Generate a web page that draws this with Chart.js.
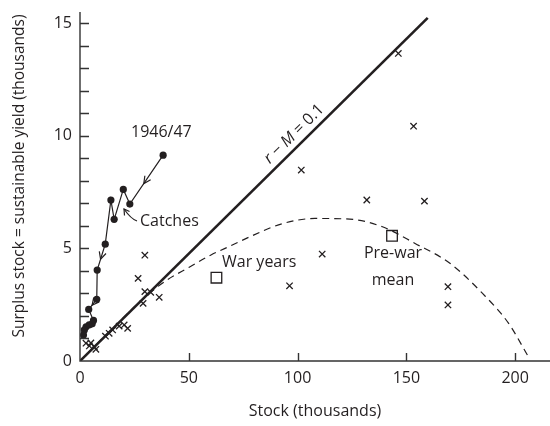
<!DOCTYPE html>
<html>
<head>
<meta charset="utf-8">
<script src="https://cdn.jsdelivr.net/npm/chart.js@4.4.0/dist/chart.umd.min.js"></script>
<style>
  html, body { margin: 0; padding: 0; background: #fff; }
  #wrap { width: 550px; height: 426px; }
</style>
</head>
<body>
<div id="wrap"><canvas id="chart" width="550" height="426"></canvas></div>
<script>
// ========== DATA ==========

const xTicks = [0, 50, 100, 150, 200];
const yTicks = [0, 1, 2, 3, 4, 5, 6, 7, 8, 9, 10, 11, 12, 13, 14, 15];
const yLabels = [0, 5, 10, 15];

// r - M = 0.1 line
const lineStock = [0, 159.8];
const lineSurplus = [0, 15.24];

// dashed sustainable yield curve
const curveStock = [0, 15, 30, 40, 50, 60, 70, 80, 93, 108, 124, 139, 154, 170, 185, 197, 206];
const curveSurplus = [0, 1.45, 2.85, 3.6, 4.15, 4.7, 5.15, 5.6, 6.1, 6.33, 6.3, 5.96, 5.22, 4.34, 3.0, 1.67, 0.2];

// catches, from 1946/47 backwards
const catchStock = [38.2, 22.9, 19.9, 15.7, 14.2, 11.6, 7.9, 7.7, 4.0, 6.2, 5.6, 4.2, 2.8, 2.0, 1.6];
const catchSurplus = [9.14, 6.97, 7.62, 6.29, 7.15, 5.19, 4.04, 2.74, 2.29, 1.8, 1.65, 1.6, 1.52, 1.38, 1.15];
const catchArrows = [0, 5, 7];   // segments carrying an arrowhead

// yearly estimates
const yearStock = [153.3, 101.7, 131.8, 158.3, 111.3, 96.3, 169.1, 169.1, 146.3,
                   29.8, 26.7, 29.8, 32.5, 29.0, 36.4,
                   2.75, 5.0, 4.3, 6.6, 7.3, 11.7, 13.4, 15.0, 18.0, 20.3, 21.9];
const yearSurplus = [10.43, 8.48, 7.15, 7.1, 4.75, 3.34, 3.30, 2.49, 13.66,
                     4.70, 3.67, 3.08, 3.05, 2.56, 2.83,
                     0.79, 0.8, 0.67, 0.63, 0.52, 1.1, 1.23, 1.38, 1.55, 1.6, 1.45];

// means: war years, pre-war
const meanStock = [62.7, 143.4];
const meanSurplus = [3.70, 5.56];

// ========== HELPERS ==========

const INK = '#231f20';
const FONT = "'Open Sans', sans-serif";

function toPoints(xs, ys) {
    return xs.map((x, i) => ({ x: x, y: ys[i] }));
}

// ========== DECORATION PLUGIN ==========

const decor = {
    id: 'decor',
    afterDatasetsDraw(chart) {
        const ctx = chart.ctx;
        const { left, right, top, bottom } = chart.chartArea;
        const xs = chart.scales.x;
        const ys = chart.scales.y;

        ctx.save();
        ctx.strokeStyle = '#333';
        ctx.lineWidth = 1.4;

        // axes
        ctx.beginPath();
        ctx.moveTo(left, top);
        ctx.lineTo(left, bottom);
        ctx.lineTo(right, bottom);
        ctx.stroke();

        // inward ticks
        ctx.beginPath();
        yTicks.forEach(v => {
            if (v === 0) return;
            const py = Math.round(ys.getPixelForValue(v)) + 0.5;
            ctx.moveTo(left, py);
            ctx.lineTo(left + 9, py);
        });
        xTicks.forEach(v => {
            if (v === 0) return;
            const px = Math.round(xs.getPixelForValue(v)) + 0.5;
            ctx.moveTo(px, bottom);
            ctx.lineTo(px, bottom - 8);
        });
        ctx.stroke();

        // arrowheads on the catches line
        ctx.strokeStyle = INK;
        ctx.lineWidth = 1.2;
        catchArrows.forEach(i => {
            const x0 = xs.getPixelForValue(catchStock[i]);
            const y0 = ys.getPixelForValue(catchSurplus[i]);
            const x1 = xs.getPixelForValue(catchStock[i + 1]);
            const y1 = ys.getPixelForValue(catchSurplus[i + 1]);
            const len = Math.hypot(x1 - x0, y1 - y0);
            const dx = (x1 - x0) / len, dy = (y1 - y0) / len;
            const tx = x0 + (x1 - x0) * 0.58, ty = y0 + (y1 - y0) * 0.58;
            ctx.beginPath();
            ctx.moveTo(tx - dx * 7 - dy * 3.5, ty - dy * 7 + dx * 3.5);
            ctx.lineTo(tx, ty);
            ctx.lineTo(tx - dx * 7 + dy * 3.5, ty - dy * 7 - dx * 3.5);
            ctx.stroke();
        });

        // leader for "Catches"
        ctx.beginPath();
        ctx.moveTo(137, 221);
        ctx.quadraticCurveTo(131, 219, 124, 209);
        ctx.stroke();
        ctx.beginPath();
        ctx.moveTo(124.5, 215.5);
        ctx.lineTo(124, 209);
        ctx.lineTo(129.5, 211.5);
        ctx.stroke();

        // labels
        ctx.fillStyle = INK;
        ctx.font = '16px ' + FONT;
        ctx.textBaseline = 'middle';
        ctx.textAlign = 'left';
        ctx.fillText('1946/47', 131, 132);
        ctx.fillText('Catches', 140, 221);
        ctx.fillText('War years', 222, 262);
        ctx.textAlign = 'center';
        ctx.fillText('Pre-war', 393, 253);
        ctx.fillText('mean', 393, 280);

        // r - M = 0.1 along the line
        const parts = [['r', true], [' \u2212 ', false], ['M', true], [' = 0.1', false]];
        const fontOf = it => (it ? 'italic ' : '') + '16px ' + FONT;
        let total = 0;
        parts.forEach(p => { ctx.font = fontOf(p[1]); total += ctx.measureText(p[0]).width; });
        ctx.translate(294, 134);
        ctx.rotate(-44.6 * Math.PI / 180);
        ctx.textAlign = 'left';
        let cx = -total / 2;
        parts.forEach(p => {
            ctx.font = fontOf(p[1]);
            ctx.fillText(p[0], cx, 0);
            cx += ctx.measureText(p[0]).width;
        });
        ctx.setTransform(1, 0, 0, 1, 0, 0);

        // y axis title
        ctx.translate(20, 176);
        ctx.rotate(-Math.PI / 2);
        ctx.textAlign = 'center';
        ctx.font = '15.5px ' + FONT;
        ctx.fillText('Surplus stock = sustainable yield (thousands)', 0, 0);
        ctx.restore();
    }
};

// ========== CHART ==========

function initChart() {
    const ctx = document.getElementById('chart').getContext('2d');

    new Chart(ctx, {
        type: 'scatter',
        data: {
            datasets: [
                {
                    label: 'r - M = 0.1',
                    data: toPoints(lineStock, lineSurplus),
                    showLine: true,
                    borderColor: INK,
                    borderWidth: 2.6,
                    pointRadius: 0
                },
                {
                    label: 'Sustainable yield',
                    data: toPoints(curveStock, curveSurplus),
                    showLine: true,
                    borderColor: INK,
                    borderWidth: 1.2,
                    borderDash: [7, 5],
                    cubicInterpolationMode: 'monotone',
                    pointRadius: 0
                },
                {
                    label: 'Catches',
                    data: toPoints(catchStock, catchSurplus),
                    showLine: true,
                    borderColor: INK,
                    borderWidth: 1.2,
                    pointRadius: 3.6,
                    pointBackgroundColor: INK,
                    pointBorderWidth: 0
                },
                {
                    label: 'Years',
                    data: toPoints(yearStock, yearSurplus),
                    pointStyle: 'crossRot',
                    pointRadius: 4.5,
                    borderColor: INK,
                    borderWidth: 1.3
                },
                {
                    label: 'Means',
                    data: toPoints(meanStock, meanSurplus),
                    pointStyle: 'rect',
                    pointRadius: 7.5,
                    backgroundColor: '#fff',
                    borderColor: INK,
                    borderWidth: 1.3
                }
            ]
        },
        options: {
            responsive: false,
            animation: false,
            layout: { autoPadding: false, padding: { top: 12, right: 0, left: 0, bottom: 0 } },
            plugins: {
                legend: { display: false },
                tooltip: { enabled: false }
            },
            scales: {
                x: {
                    type: 'linear',
                    min: 0,
                    max: 216,
                    afterBuildTicks: s => { s.ticks = xTicks.map(v => ({ value: v })); },
                    afterFit: s => { s.height = 65; s.paddingLeft = 0; s.paddingRight = 0; },
                    grid: { display: false, drawTicks: false },
                    border: { display: false },
                    ticks: {
                        padding: 8,
                        color: INK,
                        maxRotation: 0,
                        autoSkip: false,
                        font: { family: FONT, size: 16 }
                    },
                    title: {
                        display: true,
                        text: 'Stock (thousands)',
                        color: INK,
                        padding: { top: 4, bottom: 5 },
                        font: { family: FONT, size: 16 }
                    }
                },
                y: {
                    type: 'linear',
                    min: 0,
                    max: 15.5,
                    afterBuildTicks: s => { s.ticks = yTicks.map(v => ({ value: v })); },
                    afterFit: s => { s.width = 80; s.paddingTop = 0; s.paddingBottom = 0; },
                    grid: { display: false, drawTicks: false },
                    border: { display: false },
                    ticks: {
                        padding: 8,
                        color: INK,
                        autoSkip: false,
                        callback: v => (yLabels.includes(v) ? String(v) : ''),
                        font: { family: FONT, size: 16 }
                    }
                }
            }
        },
        plugins: [decor]
    });
}

initChart();
</script>
</body>
</html>
